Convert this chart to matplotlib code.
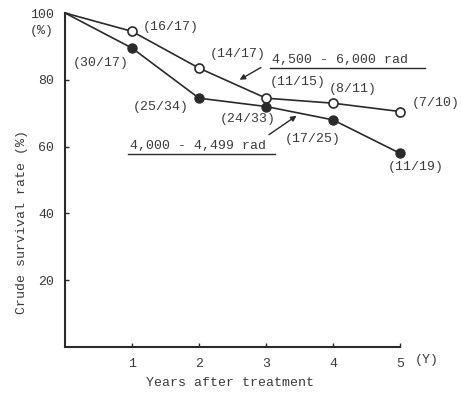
import matplotlib.pyplot as plt

# ---- data ----
years = [0, 1, 2, 3, 4, 5]
high_dose = [100, 94.5, 83.5, 74.5, 73, 70.5]     # 4,500 - 6,000 rad (open circles)
low_dose = [100, 89.5, 74.5, 72, 68, 58]          # 4,000 - 4,499 rad (filled circles)
high_labels = ["(16/17)", "(14/17)", "(11/15)", "(8/11)", "(7/10)"]
low_labels = ["(30/17)", "(25/34)", "(24/33)", "(17/25)", "(11/19)"]
yticks = [20, 40, 60, 80, 100]
xticks = [1, 2, 3, 4, 5]

ink = "#2a2a2a"
txt = "#3a3a3a"
plt.rcParams["font.family"] = ["Liberation Mono", "DejaVu Sans Mono"]
fs = 9.5

fig = plt.figure(figsize=(4.62, 3.94), dpi=100)
ax = fig.add_axes([65 / 462, 47 / 394, 335 / 462, 334 / 394])

# no marker at year 0, both curves start from 100 %
ax.plot(years, high_dose, color=ink, lw=1.2, marker="o", ms=6.5, markevery=slice(1, None),
        mfc="white", mec=ink, mew=1.2, clip_on=False, zorder=3)
ax.plot(years, low_dose, color=ink, lw=1.2, marker="o", ms=6.5, markevery=slice(1, None),
        mfc=ink, mec=ink, clip_on=False, zorder=3)

# count labels next to the points
high_pos = [(1.16, 95.8), (2.16, 87.7), (3.06, 79.3), (3.93, 77.2), (5.18, 73)]
low_pos = [(0.12, 85), (1.01, 72), (2.31, 68.2), (3.28, 62.2), (4.82, 54)]
for (x, y), s in zip(high_pos, high_labels):
    ax.text(x, y, s, ha="left", va="center", fontsize=fs, color=txt)
for (x, y), s in zip(low_pos, low_labels):
    ax.text(x, y, s, ha="left", va="center", fontsize=fs, color=txt)

# dose group labels with underline and pointer
ax.text(3.09, 85.8, "4,500 - 6,000 rad", ha="left", va="center", fontsize=fs, color=txt)
ax.plot([3.06, 5.37], [83.6, 83.6], color=ink, lw=1, clip_on=False)
ax.annotate("", xy=(2.57, 79.6), xytext=(2.96, 84.1),
            arrowprops=dict(arrowstyle="-|>", color=ink, lw=1, mutation_scale=8))

ax.text(0.97, 60.2, "4,000 - 4,499 rad", ha="left", va="center", fontsize=fs, color=txt)
ax.plot([0.94, 3.13], [57.7, 57.7], color=ink, lw=1, clip_on=False)
ax.annotate("", xy=(3.49, 69.7), xytext=(3.01, 63.1),
            arrowprops=dict(arrowstyle="-|>", color=ink, lw=1, mutation_scale=8))

ax.set_xlim(0, 5)
ax.set_ylim(0, 100)
ax.set_xticks(xticks)
ax.set_yticks(yticks)
ax.tick_params(direction="in", length=3, width=1, color=ink,
               labelcolor=txt, labelsize=fs, pad=8)
for side in ["top", "right"]:
    ax.spines[side].set_visible(False)
for side in ["left", "bottom"]:
    ax.spines[side].set_color(ink)
    ax.spines[side].set_linewidth(1.5)

ax.text(-0.17, 94.5, "(%)", ha="right", va="center", fontsize=fs, color=txt)
ax.text(5.22, -4, "(Y)", ha="left", va="center", fontsize=fs, color=txt)

fig.text(22 / 462, 1 - 222 / 394, "Crude survival rate (%)", rotation=90,
         ha="center", va="center", fontsize=fs, color=txt)
fig.text(230 / 462, 1 - 383 / 394, "Years after treatment",
         ha="center", va="center", fontsize=fs, color=txt)

fig.savefig("out.png", dpi=100)
